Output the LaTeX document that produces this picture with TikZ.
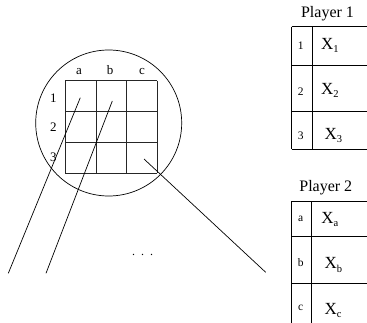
\documentclass[tikz,border=0pt]{standalone}
\usepackage{fontspec}
\setmainfont{Liberation Serif}
\newcommand{\Xs}[1]{X\raisebox{-3.5pt}{\fontsize{10.5}{10.5}\selectfont #1}}
\begin{document}
\begin{tikzpicture}[x=1pt,y=-1pt,
  ln/.style={line width=0.7pt,black},
  gridln/.style={line width=0.9pt,black!85},
  tbl/.style={line width=0.8pt,black},
  lbl/.style={inner sep=0pt,anchor=base,font=\fontsize{13}{13}\selectfont},
  small/.style={inner sep=0pt,anchor=base,font=\fontsize{11.5}{12}\selectfont},
  xlab/.style={inner sep=0pt,anchor=base west,font=\fontsize{17}{17}\selectfont},
  title/.style={inner sep=0pt,anchor=base,font=\fontsize{16}{16}\selectfont}]
\useasboundingbox (0,0) rectangle (367,323);
% circle
\node[circle,draw,ln,minimum size=146pt,inner sep=0pt] (circ) at (108.7,123) {};
% grid
\foreach \i in {0,1,2,3} {
  \draw[gridln] (65.3+30.67*\i,80.7) -- (65.3+30.67*\i,173);
  \draw[gridln] (65.3,80.7+30.77*\i) -- (157.3,80.7+30.77*\i);
}
\node[lbl] (ca) at (79,75) {a};
\node[lbl] (cb) at (110,75) {b};
\node[lbl] (cc) at (142,75) {c};
\node[lbl] (r1) at (53.3,102.7) {1};
\node[lbl] (r2) at (53.3,132) {2};
\node[lbl] (r3) at (53.3,161.7) {3};
% leaders
\coordinate (pa) at (80.3,97.7);
\coordinate (pb) at (112.3,101);
\coordinate (pc) at (144,159);
\coordinate (ea) at (8.3,273.3);
\coordinate (eb) at (46,273.3);
\coordinate (ec) at (265.7,272.3);
\draw[ln] (pa) -- (ea);
\draw[ln] (pb) -- (eb);
\draw[ln] (pc) -- (ec);
\node[inner sep=0pt,anchor=base,font=\fontsize{12}{12}\selectfont] (dots) at (142.7,255.5) {.\hspace{6pt}.\hspace{6pt}.};
% Player 1 table
\node[title] (t1) at (327.5,18) {Player 1};
\draw[tbl] (291.7,26.7) -- (291.7,149);
\draw[tbl] (312.3,26.7) -- (312.3,149);
\foreach \y in {26.7,65.7,111.7,149} \draw[tbl] (291.7,\y) -- (367,\y);
\node[small] (p11) at (300.7,50) {1};
\node[small] (p12) at (300.7,95.5) {2};
\node[small] (p13) at (300.7,139.5) {3};
\node[xlab] (x1) at (321,49.5) {\Xs{1}};
\node[xlab] (x2) at (321,94.5) {\Xs{2}};
\node[xlab] (x3) at (324.5,139.3) {\Xs{3}};
% Player 2 table
\node[title] (t2) at (325.8,191.7) {Player 2};
\draw[tbl] (291.7,201.2) -- (291.7,323);
\draw[tbl] (311.7,201.2) -- (311.7,323);
\foreach \y in {201.2,236.3,283.3} \draw[tbl] (291.7,\y) -- (367,\y);
\node[small] (p2a) at (300.7,221.5) {a};
\node[small] (p2b) at (300.7,266.5) {b};
\node[small] (p2c) at (300.7,310) {c};
\node[xlab] (xa) at (321.2,223.3) {\Xs{a}};
\node[xlab] (xb) at (324.5,269) {\Xs{b}};
\node[xlab] (xc) at (324.5,314) {\Xs{c}};
\end{tikzpicture}
\end{document}
